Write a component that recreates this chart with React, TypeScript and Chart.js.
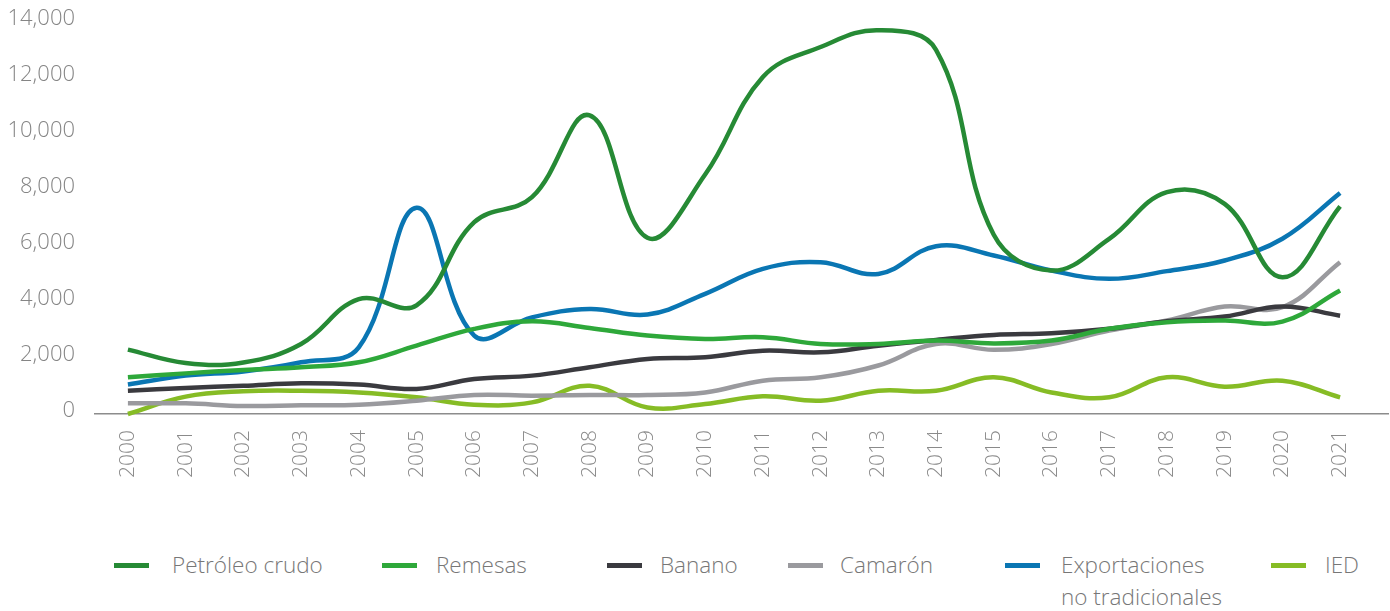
import React, { useEffect, useRef } from "react";
import { Chart, registerables } from "chart.js";

Chart.register(...registerables);

const years = [2000, 2001, 2002, 2003, 2004, 2005, 2006, 2007, 2008, 2009, 2010, 2011, 2012, 2013, 2014, 2015, 2016, 2017, 2018, 2019, 2020, 2021];

const petroleo = [2200, 1720, 1740, 2400, 4000, 3780, 6750, 7640, 10560, 6190, 8450, 11930, 13000, 13600, 12900, 6300, 5020, 6150, 7820, 7400, 4780, 7310];
const remesas = [1210, 1350, 1470, 1570, 1745, 2340, 2940, 3210, 2970, 2700, 2580, 2640, 2400, 2400, 2520, 2420, 2520, 2940, 3175, 3235, 3200, 4310];
const banano = [733, 830, 910, 995, 950, 795, 1150, 1270, 1570, 1865, 1925, 2160, 2100, 2340, 2545, 2720, 2780, 2940, 3210, 3380, 3735, 3410];
const camaron = [280, 280, 185, 210, 230, 375, 580, 555, 580, 580, 670, 1090, 1210, 1630, 2400, 2190, 2400, 2880, 3235, 3735, 3710, 5320];
const exportNoTrad = [950, 1270, 1420, 1745, 2280, 7260, 2700, 3350, 3650, 3450, 4190, 5080, 5320, 4900, 5890, 5560, 5020, 4725, 5000, 5380, 6155, 7790];
const ied = [-100, 520, 710, 730, 670, 495, 230, 315, 910, 135, 255, 530, 375, 730, 730, 1210, 670, 495, 1210, 875, 1090, 495];

const yTicks = [0, 2000, 4000, 6000, 8000, 10000, 12000, 14000];

const seriesNames = ["Petróleo crudo", "Remesas", "Banano", "Camarón", "Exportaciones\nno tradicionales", "IED"];
const seriesValues = [petroleo, remesas, banano, camaron, exportNoTrad, ied];
const seriesColors = ["#268a35", "#2ea83a", "#3a3a3f", "#9a9a9e", "#0a76b3", "#86bc25"];

const legendMarkerLeft = [114, 382, 607, 788, 1005, 1271];
const legendTextLeft = [172, 436, 660, 840, 1061, 1325];

const FONT = "'Open Sans', 'Noto Sans', sans-serif";

export default function App() {
  const canvasRef = useRef<HTMLCanvasElement | null>(null);

  useEffect(() => {
    if (!canvasRef.current) return;
    const chart = new Chart(canvasRef.current, {
      type: "line",
      data: {
        datasets: seriesNames.map((name, i) => ({
          label: name,
          data: years.map((yr, j) => ({ x: yr, y: seriesValues[i][j] })),
          borderColor: seriesColors[i],
          backgroundColor: seriesColors[i],
          borderWidth: 4.5,
          pointRadius: 0,
          tension: 0.4,
          fill: false,
          clip: false,
        })),
      },
      options: {
        animation: false,
        responsive: false,
        maintainAspectRatio: false,
        events: [],
        layout: { padding: { top: 19, left: 0, right: 2, bottom: 0 } },
        plugins: { legend: { display: false }, tooltip: { enabled: false } },
        scales: {
          x: {
            type: "linear",
            min: 1999.43,
            max: 2021.83,
            grid: { display: false, drawTicks: false },
            border: { display: true, color: "#8c8c8c", width: 1.5 },
            afterBuildTicks: (scale: any) => {
              scale.ticks = years.map((v) => ({ value: v }));
            },
            afterFit: (scale: any) => {
              scale.height = 106;
              scale.paddingLeft = 0;
              scale.paddingRight = 0;
              scale.paddingTop = 0;
              scale.paddingBottom = 0;
            },
            ticks: {
              autoSkip: false,
              maxRotation: 90,
              minRotation: 90,
              padding: 16,
              color: "#8a8a8a",
              font: { family: FONT, size: 21, weight: "300" },
              callback: (v: any) => String(v),
            },
          },
          y: {
            min: -100,
            max: 14000,
            grid: { display: false, drawTicks: false },
            border: { display: false },
            afterBuildTicks: (scale: any) => {
              scale.ticks = yTicks.map((v) => ({ value: v }));
            },
            afterFit: (scale: any) => {
              scale.width = 95;
              scale.paddingLeft = 0;
              scale.paddingRight = 0;
              scale.paddingTop = 0;
              scale.paddingBottom = 0;
            },
            ticks: {
              padding: 20,
              color: "#858585",
              font: { family: FONT, size: 22, weight: "300" },
              callback: (v: any) => Number(v).toLocaleString("en-US"),
            },
          },
        },
      },
    });
    return () => chart.destroy();
  }, []);

  return (
    <div style={{ position: "absolute", left: 0, top: 0, width: 1390, height: 611, background: "#fff", overflow: "hidden" }}>
      <canvas ref={canvasRef} width={1390} height={520} style={{ position: "absolute", left: 0, top: 0, width: 1390, height: 520 }} />
      {seriesNames.map((name, i) => (
        <React.Fragment key={name}>
          <div
            style={{
              position: "absolute",
              left: legendMarkerLeft[i],
              top: 563,
              width: 35,
              height: 5,
              background: seriesColors[i],
            }}
          />
          <div
            style={{
              position: "absolute",
              left: legendTextLeft[i],
              top: 549,
              fontFamily: FONT,
              fontWeight: 300,
              fontSize: 22.5,
              lineHeight: "32px",
              color: "#777",
              whiteSpace: "pre-line",
            }}
          >
            {name}
          </div>
        </React.Fragment>
      ))}
    </div>
  );
}
